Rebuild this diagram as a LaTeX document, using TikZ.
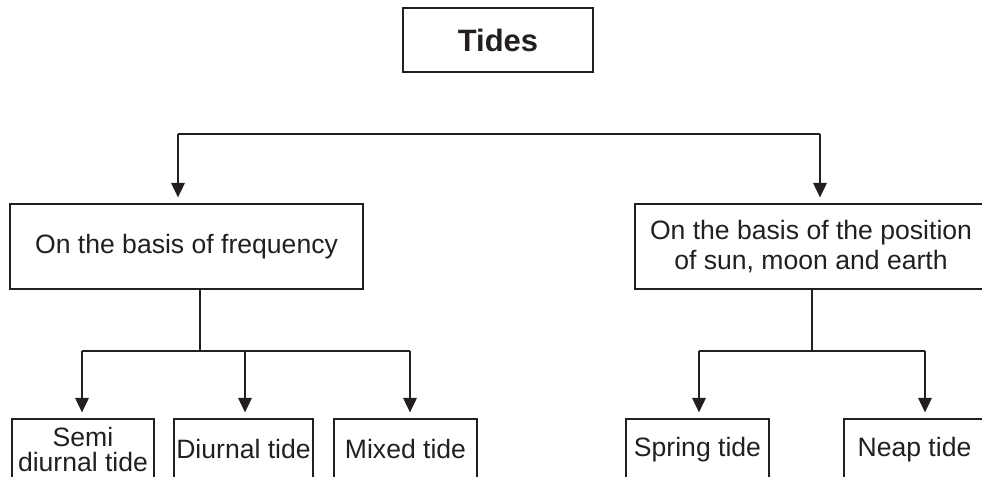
\documentclass[tikz,border=0pt]{standalone}
\usepackage{fontspec}
\setmainfont{Liberation Sans}
\usepackage{tikz}
\usetikzlibrary{arrows.meta}

\definecolor{ink}{RGB}{35,31,32}

\begin{document}
\begin{tikzpicture}[
  line width=0.9pt, draw=ink, text=ink,
  box/.style={draw=ink, rectangle, inner sep=0pt, align=center,
    font=\fontsize{18.9}{21.3}\selectfont},
  leaf/.style={box, minimum height=1.525cm},
  arr/.style={-{Triangle[length=3.6mm, width=3.4mm]}, shorten >=1.5mm}
]
\useasboundingbox (0,0) rectangle (24.55,11.925);
\clip (0,0) rectangle (24.55,11.925);

\node (tides) at (12.45,10.925) [box, minimum width=4.75cm, minimum height=1.6cm,
  font=\fontsize{22}{26}\selectfont\bfseries] {Tides};

\node (freq) at (4.6625,5.7625) [box, minimum width=8.825cm, minimum height=2.125cm] {On the basis of frequency};
\node (pos) at (20.275,5.7625) [box, minimum width=8.8cm, minimum height=2.125cm] {On the basis of the position\\of sun, moon and earth};

\node (semi) at (2.075,0.6875) [leaf, minimum width=3.55cm, font=\fontsize{18.9}{17.8}\selectfont] {Semi\\diurnal tide};
\node (diurnal) at (6.0875,0.6875) [leaf, minimum width=3.475cm] {Diurnal tide};
\node (mixed) at (10.1375,0.6875) [leaf, minimum width=3.575cm] {Mixed tide};
\node (spring) at (17.4375,0.6875) [leaf, minimum width=3.575cm] {Spring tide};
\node (neap) at (22.8625,0.6875) [leaf, minimum width=3.525cm] {Neap tide};

% top branch
\coordinate (tl) at (4.45,8.575);
\coordinate (tr) at (20.5,8.575);
\draw (tl) -- (tr);
\draw[arr] (tl) -- (tl |- freq.north);
\draw[arr] (tr) -- (tr |- pos.north);

% frequency branch
\coordinate (fj) at (5.0,3.15);
\coordinate (fl) at (2.05,3.15);
\coordinate (fm) at (6.125,3.15);
\coordinate (fr) at (10.25,3.15);
\draw (fj |- freq.south) -- (fj);
\draw (fl) -- (fr);
\draw[arr] (fl) -- (fl |- semi.north);
\draw[arr] (fm) -- (fm |- diurnal.north);
\draw[arr] (fr) -- (fr |- mixed.north);

% position branch
\coordinate (pj) at (20.3,3.15);
\coordinate (pl) at (17.475,3.15);
\coordinate (pr) at (23.125,3.15);
\draw (pj |- pos.south) -- (pj);
\draw (pl) -- (pr);
\draw[arr] (pl) -- (pl |- spring.north);
\draw[arr] (pr) -- (pr |- neap.north);
\end{tikzpicture}
\end{document}
